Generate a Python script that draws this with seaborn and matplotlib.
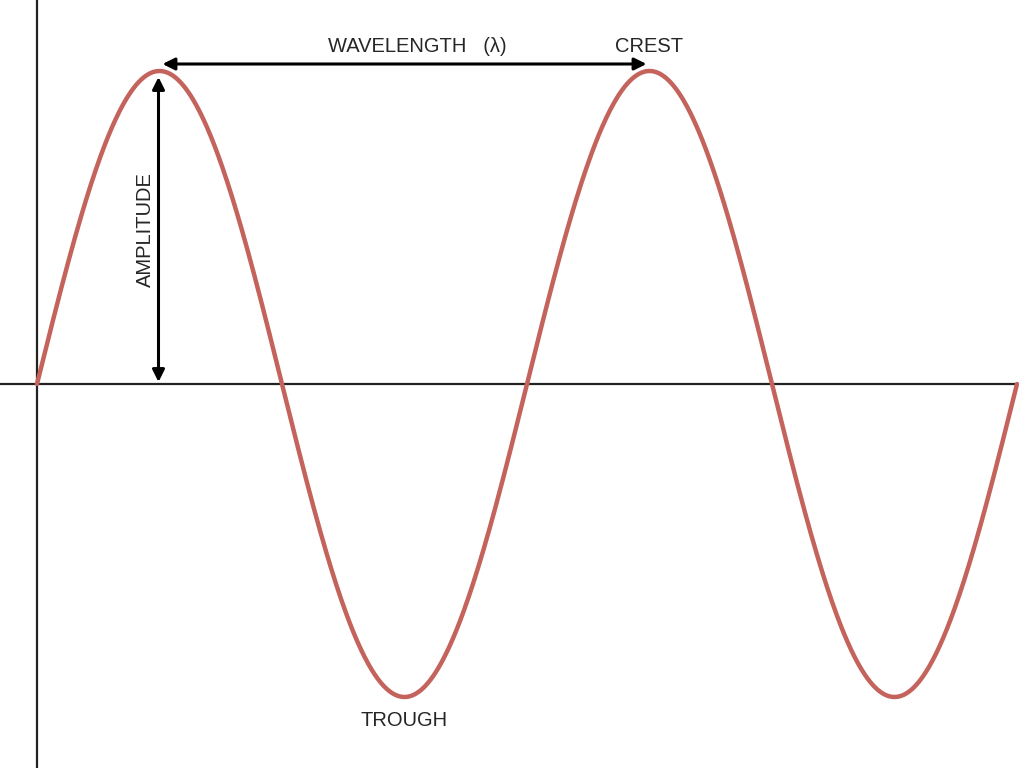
#sine wave diagram: crest, trough, amplitude and wavelength labels
import numpy as np
import matplotlib.pyplot as plt
import seaborn as sns

# wave parameters (pixel units, origin at the axes cross)
amplitude = 313
wavelength = 490
n_waves = 2
labels = ["WAVELENGTH   (λ)", "CREST", "AMPLITUDE", "TROUGH"]

x = np.linspace(0, wavelength * n_waves, 800)
y = amplitude * np.sin(2 * np.pi * x / wavelength)

sns.set_style("white")
plt.rcParams["font.family"] = ["Liberation Sans", "DejaVu Sans"]

fig = plt.figure(figsize=(10.2, 7.68), dpi=100)
ax = fig.add_axes([0, 0, 1, 1])
ax.set_xlim(-37, 983)
ax.set_ylim(-384, 384)
ax.axis("off")

ax.axhline(0, color="#222222", lw=1.6, zorder=1)
ax.axvline(0, color="#222222", lw=1.6, zorder=1)
sns.lineplot(x=x, y=y, ax=ax, color="#c4625c", lw=3.2, zorder=2)

# wavelength arrow between the two crests
crest1 = wavelength / 4
crest2 = crest1 + wavelength
arr = dict(arrowstyle="<|-|>", color="black", lw=2.2, mutation_scale=18, shrinkA=0, shrinkB=0)
ax.annotate("", xy=(crest1 + 3, 320), xytext=(crest2 - 3, 320), arrowprops=arr)
# amplitude arrow from axis to first crest
ax.annotate("", xy=(crest1 - 1, amplitude - 6), xytext=(crest1 - 1, 2), arrowprops=arr)

ax.text(380, 337, labels[0], ha="center", va="center", fontsize=14.5)
ax.text(crest2, 337, labels[1], ha="center", va="center", fontsize=14.5)
ax.text(108, 154, labels[2], ha="center", va="center", rotation=90, fontsize=14.5)
ax.text(crest1 + wavelength / 2, -337, labels[3], ha="center", va="center", fontsize=14.5)

fig.savefig("out.png", dpi=100)
